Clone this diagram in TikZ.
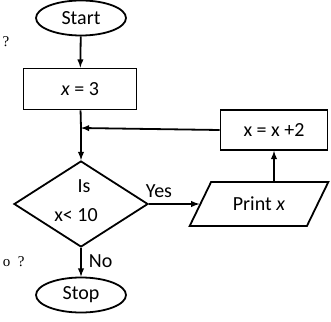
\documentclass[tikz,border=0pt]{standalone}
\usepackage{fontspec}
\setmainfont{Carlito}
\newfontfamily\qfont{Liberation Serif}
\usetikzlibrary{arrows}
\usetikzlibrary{shapes.geometric}
\tikzset{
  flow/.style={draw, line width=1.8pt, font=\fontsize{20}{23}\selectfont, inner sep=0pt},
  term/.style={flow, ellipse, minimum width=90pt, minimum height=35pt},
  proc/.style={flow, rectangle, minimum width=113pt, minimum height=41pt},
  decide/.style={flow, diamond, minimum width=134pt, minimum height=86pt, aspect=1.56},
  io/.style={flow, trapezium, trapezium left angle=50, trapezium right angle=130,
    trapezium stretches=true, minimum width=139pt, minimum height=44pt},
  conn/.style={line width=1.8pt, -latex},
  lbl/.style={font=\fontsize{20}{23}\selectfont, inner sep=1pt}
}
\begin{document}
\begin{tikzpicture}[x=1pt,y=-1pt]%flow chart
\useasboundingbox (0,0) rectangle (331,321);
\node[term] (start) at (81,18) {Start};
\node[proc] (init) at (80,89) {\textit{x} = 3};
\node[decide] (test) at (81,204) {};
\node[lbl] (is) at (84,186) {Is};
\node[lbl] (cond) at (76,215) {x< 10};
\node[term] (stop) at (81,295) {Stop};
\node[io] (print) at (259,204) {Print \textit{x}};
\node[proc, minimum width=107pt, minimum height=40pt] (inc) at (274,130) {x = x +2};
\coordinate (join) at (81,128);
\draw[conn] (start) -- (init);
\draw[line width=1.8pt] (init) -- (join);
\draw[conn] (join) -- (test);
\draw[conn] (inc.west) -- (join);
\draw[conn] (test.east) -- (print) node[lbl, above, pos=0.2, yshift=4pt] (yes) {Yes};
\draw[conn] (print.north -| inc) -- (inc);
\draw[conn] (test) -- (stop) node[lbl, right, pos=0.45, xshift=6pt] (no) {No};
\node[font=\qfont\fontsize{15}{18}\selectfont] (q1) at (6,42) {?};
\node[font=\qfont\fontsize{15}{18}\selectfont, anchor=east] (q2) at (28,262) {o\ \ ?};
\end{tikzpicture}
\end{document}
